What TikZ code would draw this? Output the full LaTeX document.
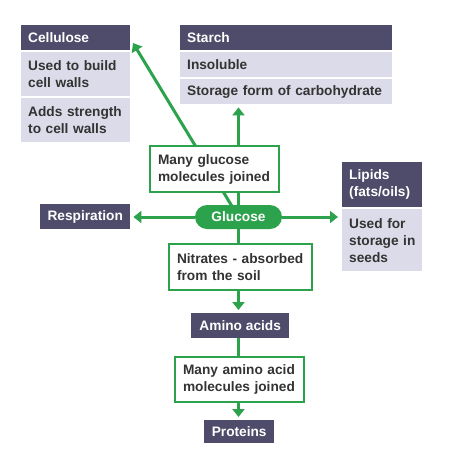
\documentclass[tikz,border=0pt]{standalone}
\usepackage{fontspec}
\setmainfont{Liberation Sans}
\usetikzlibrary{arrows.meta,backgrounds,calc}
\definecolor{hdcol}{HTML}{4E4C6A}
\definecolor{bdcol}{HTML}{DCDBE9}
\definecolor{grn}{HTML}{2BA24B}
\definecolor{txt}{HTML}{333333}
\tikzset{
  lbl/.style={font=\fontsize{13.7}{17}\selectfont\bfseries, anchor=north west, inner ysep=0pt, inner xsep=5pt, align=left,
    execute at begin node={\leftskip=2pt\hyphenpenalty=10000\exhyphenpenalty=10000}},
  hd/.style={lbl, fill=hdcol, text=white},
  bd/.style={lbl, fill=bdcol, text=txt},
  wb/.style={lbl, fill=white, draw=grn, line width=2pt, text=txt, inner xsep=6pt},
  ctr/.style={font=\fontsize{13.7}{17}\selectfont\bfseries, anchor=north west, inner sep=0pt, align=center, fill=hdcol, text=white},
  conn/.style={draw=grn, line width=3pt},
  arr/.style={conn, -{Triangle[width=12pt,length=8pt]}}
}
\begin{document}
\begin{tikzpicture}[x=1pt,y=-1pt]
\useasboundingbox (0,0) rectangle (461,459);
% Cellulose
\node[hd, minimum width=109pt, minimum height=25pt, text width=99pt] (cellHead) at (21,25) {Cellulose};
\node[bd, minimum width=109pt, minimum height=44pt, text width=99pt] (cellB1) at (21,52) {Used to build\\cell walls};
\node[bd, minimum width=109pt, minimum height=44pt, text width=99pt] (cellB2) at (21,98) {Adds strength\\to cell walls};
% Starch
\node[hd, minimum width=212pt, minimum height=25pt, text width=202pt] (starchHead) at (180,25) {Starch};
\node[bd, minimum width=212pt, minimum height=25pt, text width=202pt] (starchB1) at (180,52) {Insoluble};
\node[bd, minimum width=212pt, minimum height=25pt, text width=202pt] (starchB2) at (180,79) {Storage form of carbohydrate};
% Many glucose
\node[wb, minimum width=129pt, minimum height=46pt, text width=117pt] (manyGlu) at (149,145) {Many glucose\\molecules joined};
% Glucose
\node[font=\fontsize{13.7}{17}\selectfont\bfseries, fill=grn, text=white, rounded corners=12pt, minimum width=87pt, minimum height=24pt, inner sep=0pt, anchor=center] (glucose) at (238.5,217) {Glucose};
% Respiration
\node[ctr, minimum width=90pt, minimum height=25pt] (resp) at (40,204) {Respiration};
% Lipids
\node[hd, minimum width=80pt, minimum height=45pt, text width=70pt] (lipHead) at (342,162) {Lipids\\(fats/oils)};
\node[bd, minimum width=80pt, minimum height=62pt, text width=70pt] (lipB) at (342,209) {Used for\\storage in\\seeds};
% Nitrates
\node[wb, minimum width=143pt, minimum height=46pt, text width=131pt] (nitr) at (168,243) {Nitrates - absorbed\\from the soil};
% Amino acids
\node[ctr, minimum width=98pt, minimum height=25pt] (amino) at (191,313) {Amino acids};
% Many amino acid
\node[wb, minimum width=129pt, minimum height=45pt, text width=117pt] (manyAA) at (174,356) {Many amino acid\\molecules joined};
% Proteins
\node[ctr, minimum width=70pt, minimum height=23pt] (prot) at (204,420) {Proteins};
\coordinate (cellTip) at (133,43);
\begin{scope}[on background layer]
\draw[arr] (glucose.center) -- (cellTip);
\draw[arr, shorten >=3pt] (glucose.center) -- (starchB2.south -| glucose.center);
\draw[arr, shorten >=3pt] (glucose.west) -- (resp.east |- glucose.center);
\draw[arr, shorten >=4pt] (glucose.east) -- (lipB.west |- glucose.center);
\draw[conn] (glucose.south) -- (nitr.north -| glucose.south);
\draw[arr, shorten >=3pt] (nitr.south -| glucose.south) -- (amino.north -| glucose.south);
\draw[conn] (amino.south -| glucose.south) -- (manyAA.north -| glucose.south);
\draw[arr, shorten >=3pt] (manyAA.south -| glucose.south) -- (prot.north -| glucose.south);
\end{scope}
\end{tikzpicture}
\end{document}
